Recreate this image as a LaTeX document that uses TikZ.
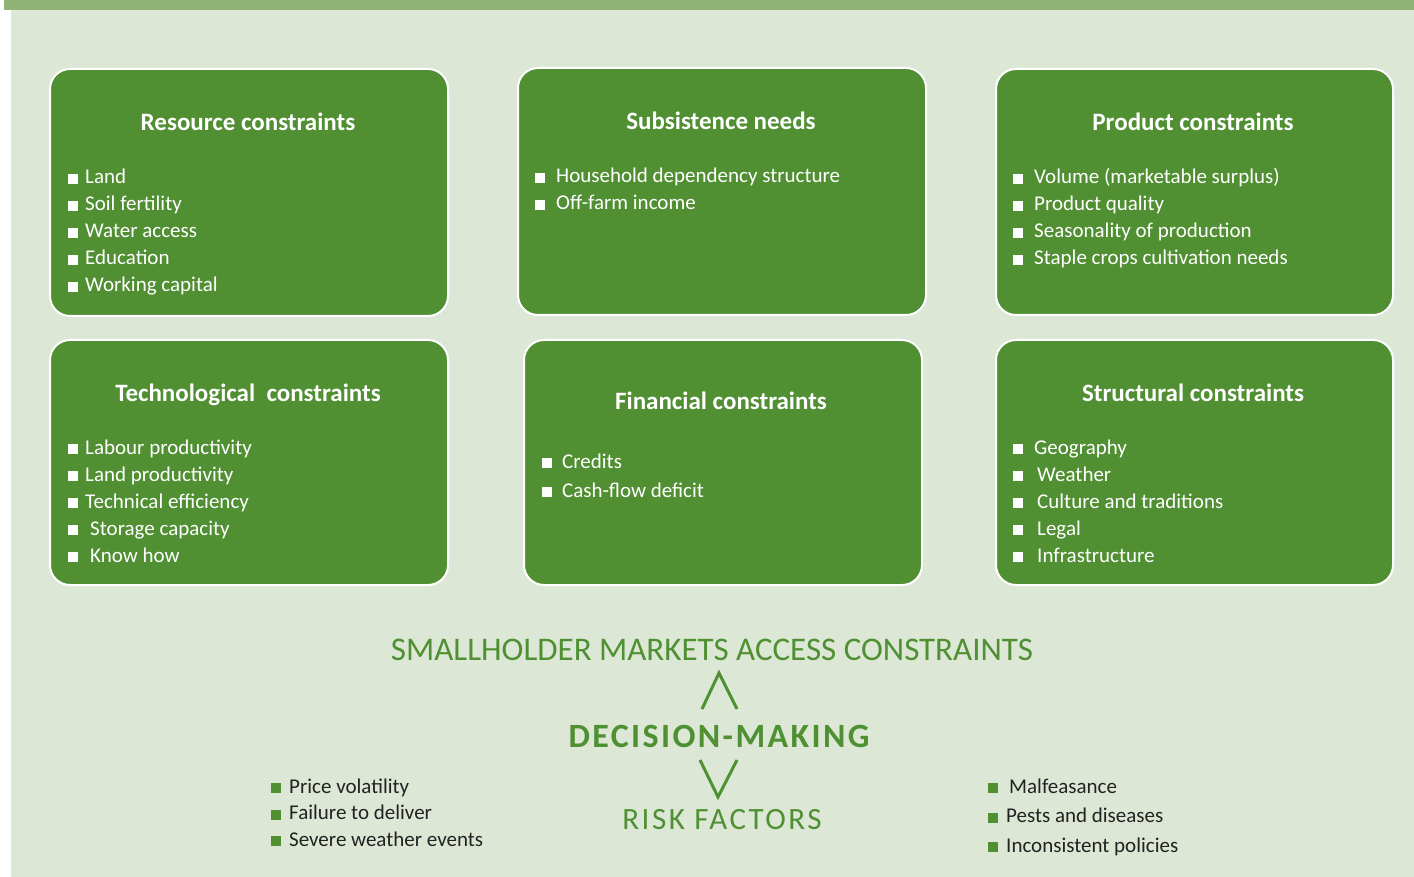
\documentclass[tikz,border=0pt]{standalone}
\usepackage{fontspec}
\setmainfont{Carlito}
\definecolor{bggreen}{HTML}{DDE7D6}
\definecolor{bargreen}{HTML}{8FB475}
\definecolor{boxgreen}{HTML}{518F33}
\definecolor{headgreen}{HTML}{4F9033}
\definecolor{riskgray}{HTML}{222222}
\newcommand{\sq}{\rule{10pt}{10pt}}
\tikzset{
  box/.style={draw=white, line width=2pt, fill=boxgreen, rounded corners=20pt, anchor=north west, inner sep=0pt, outer sep=0pt},
  boxtitle/.style={text=white, font=\bfseries\fontsize{25}{30}\selectfont, anchor=base, inner sep=0pt},
  item/.style={text=white, font=\fontsize{21}{27}\selectfont, anchor=base west, inner sep=0pt},
  riskitem/.style={text=riskgray, font=\fontsize{21}{26}\selectfont, anchor=base west, inner sep=0pt},
  headline/.style={text=headgreen, anchor=base, inner sep=0pt},
}

\begin{document}
\begin{tikzpicture}[x=1pt, y=-1pt]
  \useasboundingbox (0,0) rectangle (1414,877);
  \fill[white] (0,0) rectangle (1414,877);
  \fill[bggreen] (11,10) rectangle (1414,877);
  \fill[bargreen] (4,0) rectangle (1414,10);

  % constraint boxes
  \node[box, minimum width=398pt, minimum height=247pt] (res) at (50,69) {};
  \node[box, minimum width=408pt, minimum height=247pt] (sub) at (518,68) {};
  \node[box, minimum width=397pt, minimum height=246pt] (prod) at (996,69) {};
  \node[box, minimum width=398pt, minimum height=245pt] (tech) at (50,340) {};
  \node[box, minimum width=398pt, minimum height=245pt] (fin) at (524,340) {};
  \node[box, minimum width=397pt, minimum height=245pt] (struc) at (996,340) {};

  \node[boxtitle] (res-t) at (248,131) {Resource constraints};
  \node[boxtitle] (sub-t) at (721,130) {Subsistence needs};
  \node[boxtitle] (prod-t) at (1193,131) {Product constraints};
  \node[boxtitle] (tech-t) at (248,401) {Technological\ \ constraints};
  \node[boxtitle] (fin-t) at (721,409) {Financial constraints};
  \node[boxtitle] (struc-t) at (1193,401) {Structural constraints};

  \foreach \g/\t [count=\i] in {7/Land, 7/Soil fertility, 7/Water access, 7/Education, 7/Working capital}
    \node[item] (res-\i) at (68,{184+27*(\i-1)}) {\sq\hspace{\g pt}\t};
  \foreach \g/\t [count=\i] in {11/Household dependency structure, 11/Off-farm income}
    \node[item] (sub-\i) at (535,{183+27*(\i-1)}) {\sq\hspace{\g pt}\t};
  \foreach \g/\t [count=\i] in {11/Volume (marketable surplus), 11/Product quality, 11/Seasonality of production, 11/Staple crops cultivation needs}
    \node[item] (prod-\i) at (1013,{184+27*(\i-1)}) {\sq\hspace{\g pt}\t};
  \foreach \g/\t [count=\i] in {7/Labour productivity, 7/Land productivity, 7/Technical efficiency, 12/Storage capacity, 12/Know how}
    \node[item] (tech-\i) at (68,{454+27*(\i-1)}) {\sq\hspace{\g pt}\t};
  \foreach \g/\t [count=\i] in {10/Credits, 10/Cash-flow deficit}
    \node[item] (fin-\i) at (542,{468+29*(\i-1)}) {\sq\hspace{\g pt}\t};
  \foreach \g/\t [count=\i] in {11/Geography, 14/Weather, 14/Culture and traditions, 14/Legal, 14/Infrastructure}
    \node[item] (struc-\i) at (1013,{454+27*(\i-1)}) {\sq\hspace{\g pt}\t};

  % decision-making
  \node[headline, font=\fontsize{33}{38}\selectfont] (access) at (712,660) {SMALLHOLDER MARKETS ACCESS CONSTRAINTS};
  \node[headline, font=\bfseries\fontsize{34}{40}\selectfont\addfontfeature{LetterSpace=7}] (decision) at (719,747) {DECISION-MAKING};
  \node[headline, font=\fontsize{31}{36}\selectfont\addfontfeature{LetterSpace=8}] (risk) at (722,829) {RISK FACTORS};
  \draw[headgreen, line width=3pt] (702,709) -- (719,673) -- (737,709);
  \draw[headgreen, line width=3pt] (700,760) -- (718,797) -- (737,760);

  % risk factors
  \foreach \g/\t [count=\i] in {8/Price volatility, 8/Failure to deliver, 8/Severe weather events}
    \node[riskitem] (riskl-\i) at (271,{793+26.5*(\i-1)}) {\textcolor{boxgreen}{\sq}\hspace{\g pt}\t};
  \foreach \g/\t [count=\i] in {11/Malfeasance, 8/Pests and diseases, 8/Inconsistent policies}
    \node[riskitem] (riskr-\i) at (988,{793+29.5*(\i-1)}) {\textcolor{boxgreen}{\sq}\hspace{\g pt}\t};
\end{tikzpicture}
\end{document}
